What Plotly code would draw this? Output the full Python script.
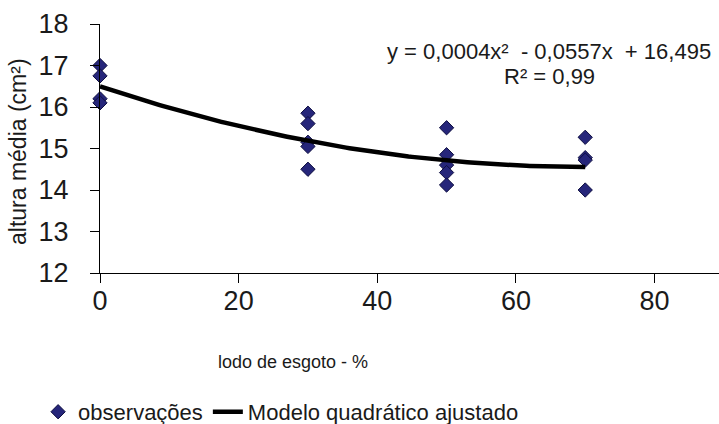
import numpy as np
import plotly.graph_objects as go

# Observed values: sewage sludge dose (%) and mean height
dose_obs = [0, 0, 0, 0,
            30, 30, 30, 30, 30,
            50, 50, 50, 50, 50,
            70, 70, 70, 70]
altura_obs = [17.0, 16.75, 16.2, 16.1,
              15.85, 15.6, 15.15, 15.05, 14.5,
              15.5, 14.85, 14.6, 14.42, 14.12,
              15.27, 14.78, 14.72, 14.0]

# Fitted quadratic model: y = a*x^2 + b*x + c
coef_a = 0.0004
coef_b = -0.0557
coef_c = 16.495
r2 = 0.99

x_ticks = [0, 20, 40, 60, 80]
y_ticks = [12, 13, 14, 15, 16, 17, 18]

x_fit = np.linspace(0, 70, 141)
y_fit = coef_a * x_fit**2 + coef_b * x_fit + coef_c

SANS = "Liberation Sans, Arial, sans-serif"
TICK_FONT = dict(family=SANS, size=27, color="#1a1a1a")

fig = go.Figure()
fig.add_trace(go.Scatter(
    x=dose_obs, y=altura_obs, mode="markers", name="observações",
    marker=dict(symbol="diamond", size=11, color="#26267a",
                line=dict(color="#0e0e40", width=1)),
    cliponaxis=False,
))
fig.add_trace(go.Scatter(
    x=x_fit, y=y_fit, mode="lines", name="Modelo quadrático ajustado",
    line=dict(color="#000000", width=4.5),
))

fig.update_layout(
    width=719, height=424,
    margin=dict(l=100, r=0, t=24, b=151, autoexpand=False),
    paper_bgcolor="white", plot_bgcolor="white",
    showlegend=True,
    legend=dict(orientation="h", x=-0.1, xanchor="left", y=-0.558, yanchor="middle",
                font=dict(family=SANS, size=22, color="#1a1a1a"),
                itemwidth=30, tracegroupgap=0,
                bgcolor="rgba(0,0,0,0)", borderwidth=0),
    xaxis=dict(range=[0, 89.3], tickvals=x_ticks, ticks="outside", ticklen=9,
               tickcolor="#000", showline=True, linecolor="#000", linewidth=1.2,
               showgrid=False, zeroline=False, tickfont=TICK_FONT,
               ticklabelstandoff=-6, automargin=False),
    yaxis=dict(range=[12, 18], tickvals=y_ticks, ticks="outside", ticklen=9,
               tickcolor="#000", showline=True, linecolor="#000", linewidth=1.2,
               showgrid=False, zeroline=False, tickfont=TICK_FONT,
               ticklabelstandoff=16, automargin=False),
    annotations=[
        dict(text="lodo de esgoto - %", xref="paper", yref="paper",
             x=(293 - 100) / 619, y=(273 - 362) / 249, xanchor="center", yanchor="middle",
             showarrow=False, font=dict(family=SANS, size=18, color="#1a1a1a")),
        dict(text="altura média (cm²)", xref="paper", yref="paper",
             x=(18 - 100) / 619, y=(273 - 152) / 249, xanchor="center", yanchor="middle",
             textangle=-90, showarrow=False,
             font=dict(family=SANS, size=23, color="#1a1a1a")),
        dict(text=f"y = {coef_a:.4f}x²  - {abs(coef_b):.4f}x  + {coef_c:.3f}".replace(".", ","),
             xref="paper", yref="paper",
             x=(549 - 100) / 619, y=(273 - 51) / 249, xanchor="center", yanchor="middle",
             showarrow=False, font=dict(family=SANS, size=22, color="#1a1a1a")),
        dict(text=f"R² = {r2:.2f}".replace(".", ","),
             xref="paper", yref="paper",
             x=(549 - 100) / 619, y=(273 - 76) / 249, xanchor="center", yanchor="middle",
             showarrow=False, font=dict(family=SANS, size=22, color="#1a1a1a")),
    ],
)

fig.write_html("out.html")
